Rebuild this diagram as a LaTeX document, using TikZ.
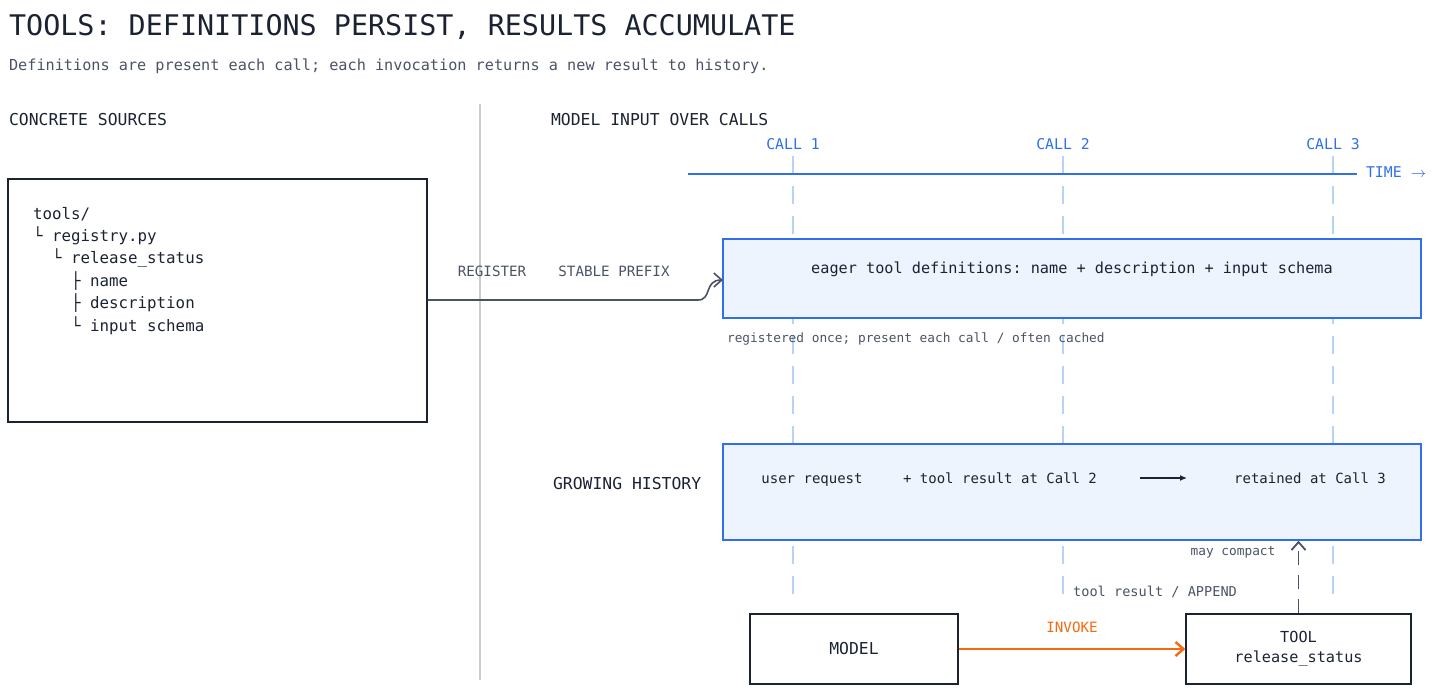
\documentclass[tikz,border=0pt]{standalone}
\usepackage{fontspec}
\setmonofont{DejaVu Sans Mono}
\usetikzlibrary{arrows.meta}
\definecolor{ink}{HTML}{1B2333}
\definecolor{slate}{HTML}{4A5365}
\definecolor{callblue}{HTML}{2F6FEB}
\definecolor{lane}{HTML}{B9D3F5}
\definecolor{panel}{HTML}{EEF4FE}
\definecolor{invoke}{HTML}{F26B0F}
\tikzset{
	box/.style = {draw = ink, line width = 0.7pt, inner sep = 0pt},
	band/.style = {draw = callblue, fill = panel, line width = 0.7pt, inner sep = 0pt},
	txt/.style = {font = \ttfamily\fontsize{7.6}{9}\selectfont, text = ink},
	small/.style = {font = \ttfamily\fontsize{6.4}{8}\selectfont, text = slate},
	head/.style = {font = \ttfamily\fontsize{8.2}{10}\selectfont, text = ink, anchor = west},
	calllbl/.style = {font = \ttfamily\fontsize{7.4}{9}\selectfont, text = callblue}
}
\begin{document}
\begin{tikzpicture}[x = 0.5pt, y = -0.5pt, > = {Straight Barb[length = 4pt, width = 7pt]}]

	% Frame

	\useasboundingbox (0, 0) rectangle (1456, 693);

	% Title

	\node [anchor = west, font = \ttfamily\fontsize{14.2}{16}\selectfont, text = ink] (title) at (2, 27) {TOOLS: DEFINITIONS PERSIST, RESULTS ACCUMULATE};
	\node [anchor = west, font = \ttfamily\fontsize{7.6}{9}\selectfont, text = slate] (subtitle) at (2, 66) {Definitions are present each call; each invocation returns a new result to history.};

	% Divider and column headings

	\draw [gray!40, line width = 0.7pt] (480, 104) -- (480, 680);
	\node [head] (srchead) at (2, 120) {CONCRETE SOURCES};
	\node [head] (modhead) at (544, 120) {MODEL INPUT OVER CALLS};

	% Call lanes

	\foreach \x/\n in {793/1, 1063/2, 1333/3} {
		\node [calllbl] (call\n) at (\x, 144) {CALL \n};
		\draw [lane, dashed, dash pattern = on 9pt off 6pt, line width = 0.7pt] (\x, 156) -- (\x, 595);
	}

	% Time axis

	\draw [callblue, line width = 1pt] (688, 174) -- (1357, 174);
	\node [calllbl, anchor = west] (time) at (1359, 172) {TIME $\rightarrow$};

	% Source box

	\node [box, minimum width = 209.5pt, minimum height = 121.5pt] (src) at (217.5, 300.5) {};
	\foreach \y/\t in {214/{tools/}, 236/{└ registry.py}, 258/{\ \ └ release\_status}, 281/{\ \ \ \ ├ name}, 303/{\ \ \ \ ├ description}, 326/{\ \ \ \ └ input schema}}
		\node [txt, anchor = west, font = \ttfamily\fontsize{7.9}{9}\selectfont] at (26, \y) {\t};

	% Definitions band

	\node [band, minimum width = 349pt, minimum height = 39.5pt] (defs) at (1072, 278.5) {};
	\node [txt] (defstxt) at (1072, 269) {eager tool definitions: name + description + input schema};
	\node [small, anchor = west] (defsnote) at (720, 339) {registered once; present each call / often cached};

	\coordinate (regin) at (723, 280);
	\draw [->, slate, line width = 0.8pt] (src.east |- 0, 300) -- (698, 300) .. controls (712, 300) and (704, 280) .. (regin);
	\node [small, font = \ttfamily\fontsize{7.1}{9}\selectfont] (reglbl) at (492, 271) {REGISTER};
	\node [small, font = \ttfamily\fontsize{7.1}{9}\selectfont] (prefixlbl) at (614, 271) {STABLE PREFIX};

	% History band

	\node [head] (histhead) at (546, 484) {GROWING HISTORY};
	\node [band, minimum width = 349pt, minimum height = 48pt] (hist) at (1072, 492) {};
	\node [txt, font = \ttfamily\fontsize{7}{9}\selectfont, anchor = base] (userreq) at (812, 483) {user request};
	\node [txt, font = \ttfamily\fontsize{7}{9}\selectfont, anchor = base] (toolres) at (1000, 483) {+ tool result at Call 2};
	\node [txt, font = \ttfamily\fontsize{7}{9}\selectfont, anchor = base] (retained) at (1310, 483) {retained at Call 3};
	\draw [-{Latex[length = 3.5pt, width = 3pt]}, ink, line width = 0.8pt] (1140, 478) -- (1187, 478);

	% Model and tool

	\node [box, minimum width = 104pt, minimum height = 35pt, txt, font = \ttfamily\fontsize{8.2}{10}\selectfont] (model) at (854, 649) {MODEL};
	\node [box, minimum width = 112.5pt, minimum height = 35pt, txt, font = \ttfamily\fontsize{7.6}{10}\selectfont, align = center] (tool) at (1298.5, 649) {TOOL\\release\_status};

	\draw [->, invoke, line width = 1.2pt] (model) -- node [above = 4pt, font = \ttfamily\fontsize{7.1}{9}\selectfont, text = invoke] (invlbl) {INVOKE} (tool);
	\draw [->, slate, line width = 0.9pt, dashed, dash pattern = on 7pt off 5pt] (tool.north) -- (tool.north |- hist.south);
	\node [small] (compact) at (1233, 552) {may compact};
	\node [small, font = \ttfamily\fontsize{6.8}{9}\selectfont] (append) at (1155, 592) {tool result / APPEND};

\end{tikzpicture}
\end{document}
